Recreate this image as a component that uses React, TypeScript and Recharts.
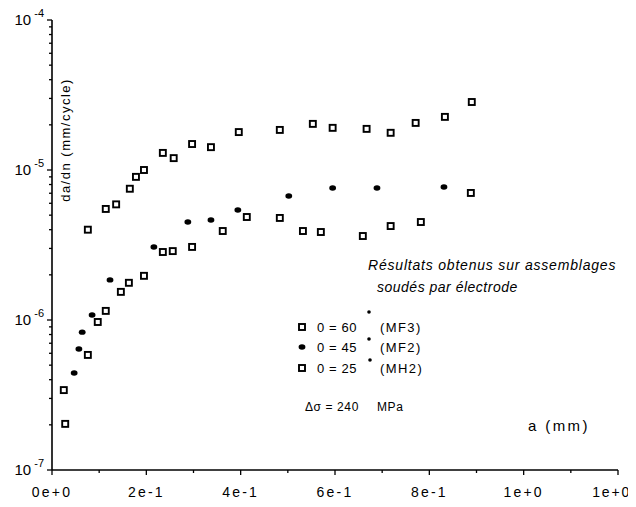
import React from "react";
import { ScatterChart, Scatter, XAxis, YAxis } from "recharts";

// θ = 60° (MF3) – upper squares
const mf3A = [0.076, 0.114, 0.136, 0.165, 0.178, 0.195, 0.235, 0.258, 0.297, 0.337, 0.396, 0.483, 0.553, 0.595, 0.667, 0.718, 0.771, 0.833, 0.89];
const mf3Rate = [4.0e-6, 5.5e-6, 5.9e-6, 7.5e-6, 9.0e-6, 1.0e-5, 1.3e-5, 1.2e-5, 1.49e-5, 1.42e-5, 1.79e-5, 1.85e-5, 2.03e-5, 1.91e-5, 1.88e-5, 1.77e-5, 2.06e-5, 2.26e-5, 2.84e-5];

// θ = 45° (MF2) – filled dots
const mf2A = [0.047, 0.057, 0.064, 0.085, 0.123, 0.216, 0.288, 0.337, 0.394, 0.502, 0.595, 0.689, 0.831];
const mf2Rate = [4.43e-7, 6.41e-7, 8.3e-7, 1.08e-6, 1.85e-6, 3.07e-6, 4.5e-6, 4.64e-6, 5.41e-6, 6.71e-6, 7.59e-6, 7.59e-6, 7.7e-6];

// θ = 25° (MH2) – lower squares
const mh2A = [0.025, 0.028, 0.076, 0.097, 0.114, 0.146, 0.163, 0.195, 0.235, 0.256, 0.297, 0.362, 0.413, 0.483, 0.532, 0.57, 0.659, 0.718, 0.782, 0.888];
const mh2Rate = [3.41e-7, 2.03e-7, 5.85e-7, 9.7e-7, 1.15e-6, 1.54e-6, 1.77e-6, 1.97e-6, 2.84e-6, 2.88e-6, 3.07e-6, 3.92e-6, 4.86e-6, 4.79e-6, 3.92e-6, 3.86e-6, 3.63e-6, 4.23e-6, 4.5e-6, 7.03e-6];

const xTicks = [0, 0.1, 0.2, 0.3, 0.4, 0.5, 0.6, 0.7, 0.8, 0.9, 1.0, 1.1, 1.2];
const xMajorTicks = [0, 0.2, 0.4, 0.6, 0.8, 1.0, 1.2];
const xMajorLabels = ["0e+0", "2e-1", "4e-1", "6e-1", "8e-1", "1e+0", "1e+0"];

const yMajorTicks = [1e-7, 1e-6, 1e-5, 1e-4];
const yMajorExponents = ["-7", "-6", "-5", "-4"];
const yMinorMultipliers = [2, 3, 4, 5, 6, 7, 8, 9];

const zip = (xs: number[], ys: number[]) => xs.map((x, i) => ({ x, y: ys[i] }));
const mf3Data = zip(mf3A, mf3Rate);
const mf2Data = zip(mf2A, mf2Rate);
const mh2Data = zip(mh2A, mh2Rate);

const yTicks: number[] = [];
yMajorTicks.forEach((m, i) => {
  yTicks.push(m);
  if (i < yMajorTicks.length - 1) yMinorMultipliers.forEach((k) => yTicks.push(m * k));
});

const FONT = "'Liberation Sans', Arial, sans-serif";

const SquareShape = (props: any) => {
  const { cx, cy } = props;
  if (cx == null || cy == null) return null;
  return <rect x={cx - 3} y={cy - 3} width={6} height={6} fill="#fff" stroke="#000" strokeWidth={1.9} />;
};

const DotShape = (props: any) => {
  const { cx, cy } = props;
  if (cx == null || cy == null) return null;
  return <ellipse cx={cx} cy={cy} rx={3.4} ry={2.7} fill="#000" />;
};

const XTick = (props: any) => {
  const { x, y, payload } = props;
  const v = payload.value;
  const idx = xMajorTicks.findIndex((t) => Math.abs(t - v) < 1e-9);
  const major = idx >= 0;
  const isLast = idx === xMajorTicks.length - 1;
  return (
    <g>
      <line x1={x} x2={x} y1={y} y2={y + (major ? 5 : 3)} stroke="#000" strokeWidth={1.3} />
      {major && (
        <text
          x={isLast ? x + 13 : x}
          y={y + 27}
          textAnchor={isLast ? "end" : "middle"}
          fontFamily={FONT}
          fontSize={14}
          letterSpacing={isLast ? 1.8 : 2.2}
          fill="#000"
        >
          {xMajorLabels[idx]}
        </text>
      )}
    </g>
  );
};

const YTick = (props: any) => {
  const { x, y, payload } = props;
  const v = payload.value;
  const idx = yMajorTicks.findIndex((t) => Math.abs(Math.log10(t) - Math.log10(v)) < 1e-6);
  const major = idx >= 0;
  return (
    <g>
      <line x1={x} x2={x - (major ? 5 : 3)} y1={y} y2={y} stroke="#000" strokeWidth={1.3} />
      {major && (
        <text x={x - 8} y={y + 5} textAnchor="end" fontFamily={FONT} fontSize={15} fill="#000">
          10
          <tspan dx={3} dy={-8} fontSize={11}>{yMajorExponents[idx]}</tspan>
        </text>
      )}
    </g>
  );
};

export default function App() {
  return (
    <div style={{ position: "relative", width: 628, height: 491, background: "#fff" }}>
      <ScatterChart width={628} height={491} margin={{ top: 12, right: 18, bottom: 0, left: 0 }}>
        <XAxis
          type="number"
          dataKey="x"
          domain={[0, 1.2]}
          ticks={xTicks}
          interval={0}
          height={29}
          tick={<XTick />}
          tickLine={false}
          tickSize={0}
          tickMargin={0}
          axisLine={{ stroke: "#000", strokeWidth: 1.6 }}
          allowDataOverflow
        />
        <YAxis
          type="number"
          dataKey="y"
          scale="log"
          domain={[1e-7, 1e-4]}
          ticks={yTicks}
          interval={0}
          width={44}
          tick={<YTick />}
          tickLine={false}
          tickSize={0}
          tickMargin={0}
          axisLine={{ stroke: "#000", strokeWidth: 1.6 }}
          allowDataOverflow
        />
        <Scatter name="MF3" data={mf3Data} shape={<SquareShape />} isAnimationActive={false} />
        <Scatter name="MF2" data={mf2Data} shape={<DotShape />} isAnimationActive={false} />
        <Scatter name="MH2" data={mh2Data} shape={<SquareShape />} isAnimationActive={false} />
      </ScatterChart>
      <svg width={628} height={491} style={{ position: "absolute", left: 0, top: 0, pointerEvents: "none" }}>
        <g fontFamily={FONT} fill="#000">
          <text x={59} y={132} transform="rotate(-90 59 132)" textAnchor="middle" dominantBaseline="middle" fontSize={13} letterSpacing={1.5}>
            da/dn (mm/cycle)
          </text>
          <text x={360} y={262} fontSize={14} fontStyle="italic" letterSpacing={0.8}>
            Résultats obtenus sur assemblages
          </text>
          <text x={369} y={284} fontSize={14} fontStyle="italic" letterSpacing={0.5}>
            soudés par électrode
          </text>

          <rect x={291} y={316} width={6} height={6} fill="#fff" stroke="#000" strokeWidth={1.9} />
          <text x={309} y={324} fontSize={13} letterSpacing={0.6}>0 = 60</text>
          <circle cx={361} cy={304} r={1.8} />
          <text x={372} y={324} fontSize={13} letterSpacing={1.4}>(MF3)</text>

          <ellipse cx={294} cy={339} rx={3.4} ry={2.7} />
          <text x={309} y={344} fontSize={13} letterSpacing={0.6}>0 = 45</text>
          <circle cx={361} cy={331} r={1.8} />
          <text x={372} y={344} fontSize={13} letterSpacing={1.4}>(MF2)</text>

          <rect x={291} y={357} width={6} height={6} fill="#fff" stroke="#000" strokeWidth={1.9} />
          <text x={309} y={365} fontSize={13} letterSpacing={0.6}>0 = 25</text>
          <circle cx={362} cy={352} r={1.8} />
          <text x={372} y={365} fontSize={13} letterSpacing={1.4}>(MH2)</text>

          <text x={297} y={403} fontSize={12} letterSpacing={0.6}>Δσ = 240</text>
          <text x={369} y={403} fontSize={12} letterSpacing={0.6}>MPa</text>

          <text x={520} y={423} fontSize={15} letterSpacing={2.4}>a (mm)</text>
        </g>
      </svg>
    </div>
  );
}
